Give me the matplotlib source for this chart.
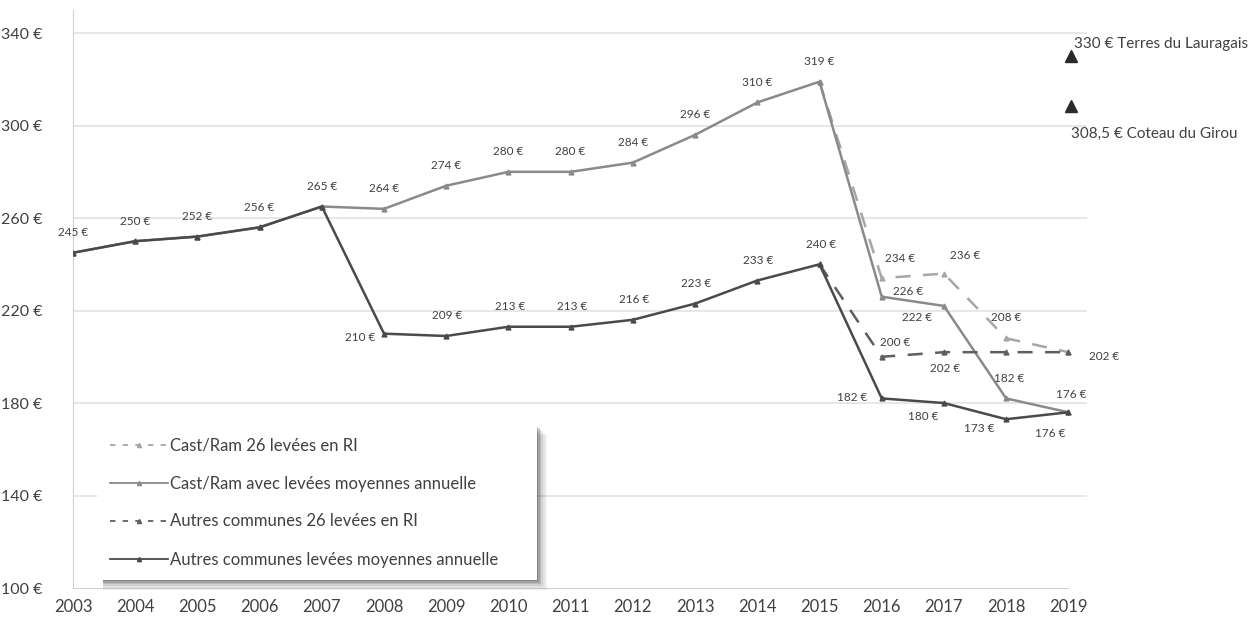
import matplotlib
matplotlib.use("Agg")
import matplotlib.pyplot as plt
from matplotlib.lines import Line2D
from matplotlib.patches import Rectangle
from matplotlib.transforms import IdentityTransform

plt.rcParams['font.family'] = ['Lato', 'DejaVu Sans']

years = list(range(2003, 2020))
castram_moy = [245, 250, 252, 256, 265, 264, 274, 280, 280, 284, 296, 310, 319, 226, 222, 182, 176]
autres_moy = [245, 250, 252, 256, 265, 210, 209, 213, 213, 216, 223, 233, 240, 182, 180, 173, 176]
years_ri = [2015, 2016, 2017, 2018, 2019]
castram_ri = [319, 234, 236, 208, 202]
autres_ri = [240, 200, 202, 202, 202]
ref_values = [330, 308.5]
ref_labels = ["330 € Terres du Lauragais", "308,5 € Coteau du Girou"]
yticks = [100, 140, 180, 220, 260, 300, 340]
legend_labels = ["Cast/Ram 26 levées en RI", "Cast/Ram avec levées moyennes annuelle",
                 "Autres communes 26 levées en RI", "Autres communes levées moyennes annuelle"]

c_cr = '#8a8a8a'
c_cr_ri = '#a6a6a6'
c_au = '#4a4a4a'
c_au_ri = '#5e5e5e'
txt = '#404040'

fig = plt.figure(figsize=(12.53, 6.23), dpi=100)
ax = fig.add_axes([73/1253, 1-588/623, (1087-73)/1253, (588-10)/623])
ax.set_xlim(2003, 2019.3)
ax.set_ylim(100, 350)

for v in yticks[1:]:
    ax.plot([2003, 2019.3], [v, v], color='#e3e3e3', lw=1.2, zorder=0)

for s in ['top', 'right']:
    ax.spines[s].set_visible(False)
ax.spines['left'].set_color('#d0d0d0')
ax.spines['bottom'].set_color('#d0d0d0')
ax.spines['bottom'].set_bounds(2003, 2019)
ax.set_yticks(yticks)
ax.set_yticklabels([f"{v} €" for v in yticks], fontsize=11.5, color=txt)
ax.set_xticks(years)
ax.set_xticklabels([str(y) for y in years], fontsize=12, color=txt)
ax.tick_params(length=0, pad=8)
ax.tick_params(axis='y', pad=22)

mk = dict(marker='^', markersize=3.5)
ax.plot(years_ri, castram_ri, color=c_cr_ri, lw=1.8, ls=(0, (6, 5)), zorder=2, **mk)
ax.plot(years, castram_moy, color=c_cr, lw=1.8, zorder=3, **mk)
ax.plot(years_ri, autres_ri, color=c_au_ri, lw=1.8, ls=(0, (6, 5)), zorder=3, **mk)
ax.plot(years, autres_moy, color=c_au, lw=1.8, zorder=4, **mk)

# reference markers
ax.plot([2019.05, 2019.05], ref_values, ls='none', marker='^', color='#2a2a2a',
        markersize=8, clip_on=False, zorder=5)
ax.annotate(ref_labels[0], (2019.05, ref_values[0]), xytext=(2, 9), textcoords='offset points',
            fontsize=11, color=txt, va='center', ha='left', annotation_clip=False)
ax.annotate(ref_labels[1], (2019.05, ref_values[1]), xytext=(0, -20), textcoords='offset points',
            fontsize=11, color=txt, va='center', ha='left', annotation_clip=False)

def lab(x, y, dx, dy):
    ax.annotate(f"{y} €", (x, y), xytext=(dx, dy), textcoords='offset points',
                fontsize=8.5, color=txt, ha='center', va='center', zorder=6)

up = 14.5
for x, y in zip(years[:13], castram_moy[:13]):
    lab(x, y, 0, up)
for i, (x, y) in enumerate(zip(years[5:13], autres_moy[5:13])):
    if i == 0:
        lab(x, y, -17, -3)
    else:
        lab(x, y, 1, up)
cr_off = [(19, 4), (-19, -8), (2, 14), (2, 13)]
for (x, y), (dx, dy) in zip(zip(years[13:], castram_moy[13:]), cr_off):
    lab(x, y, dx, dy)
au_off = [(-21, 1), (-15, -10), (-19, -7), (-13, -15)]
for (x, y), (dx, dy) in zip(zip(years[13:], autres_moy[13:]), au_off):
    lab(x, y, dx, dy)
cri_off = [None, (13, 14), (15, 13), (0, 15), (26, -3)]
for (x, y), o in zip(zip(years_ri, castram_ri), cri_off):
    if o:
        lab(x, y, *o)
ari_off = [None, (10, 10), (1, -12), None, None]
for (x, y), o in zip(zip(years_ri, autres_ri), ari_off):
    if o:
        lab(x, y, *o)

mk_leg = dict(marker='^', markersize=3)
handles = [
    Line2D([], [], color=c_cr_ri, lw=1.3, ls=(0, (3, 4)), **mk_leg),
    Line2D([], [], color=c_cr, lw=1.3, **mk_leg),
    Line2D([], [], color=c_au_ri, lw=1.3, ls=(0, (3, 4)), **mk_leg),
    Line2D([], [], color=c_au, lw=1.3, **mk_leg),
]
leg = ax.legend(handles, legend_labels, loc='lower left',
                bbox_to_anchor=(24/1014, 8/578, 440/1014, 0.27), mode='expand',
                fontsize=12, frameon=True,
                fancybox=False, edgecolor='none', facecolor='white', framealpha=1,
                labelspacing=1.32, handlelength=3.5, handletextpad=0.1,
                borderpad=0.75, borderaxespad=0)
for t in leg.get_texts():
    t.set_color(txt)
leg.set_zorder(10)

fig.canvas.draw()
bb = leg.get_window_extent()
for off, a in [(10, 0.05), (8, 0.06), (6, 0.08), (4, 0.10), (2.5, 0.13), (1.2, 0.16)]:
    r = Rectangle((bb.x0 + 6, bb.y0 - off), bb.width - 6 + off, bb.height,
                  transform=IdentityTransform(), facecolor='black', alpha=a,
                  edgecolor='none', zorder=9, clip_on=False)
    ax.add_artist(r)

fig.savefig("out.png", dpi=100, facecolor='white')
